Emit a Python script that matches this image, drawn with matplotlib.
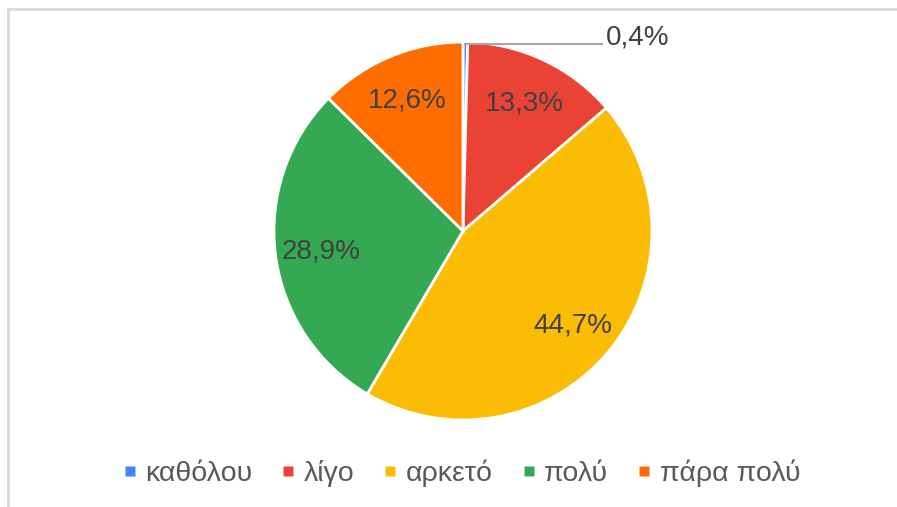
import numpy as np
import matplotlib
matplotlib.use('Agg')
import matplotlib.pyplot as plt
from matplotlib.lines import Line2D

plt.rcParams['font.family'] = ['Liberation Sans', 'DejaVu Sans']

categories = ['καθόλου', 'λίγο', 'αρκετό', 'πολύ', 'πάρα πολύ']
shares = [0.4, 13.3, 44.7, 28.9, 12.6]
colors = ['#4285F4', '#EA4335', '#FBBC04', '#34A853', '#FF6D01']

W, H = 897, 507
fig = plt.figure(figsize=(W / 100, H / 100), dpi=100)
ax = fig.add_axes([0, 0, 1, 1])

cx, cy, R = 463, H - 231, 189
wedges, _ = ax.pie(shares, colors=colors, startangle=90, counterclock=False,
                   center=(cx, cy), radius=R,
                   wedgeprops=dict(edgecolor='white', linewidth=2))
ax.set_xlim(0, W)
ax.set_ylim(0, H)
ax.set_aspect('equal')
ax.axis('off')

def fmt(v):
    return f'{v:.1f}%'.replace('.', ',')

for w, v in zip(wedges, shares):
    mid = np.deg2rad((w.theta1 + w.theta2) / 2)
    if v < 2:
        # tiny slice: leader line out to the right
        x0 = cx + R * np.cos(mid)
        y0 = cy + R * np.sin(mid) - 2
        ax.plot([x0, 602], [y0, y0], color='#a6a6a6', lw=1.5)
        ax.text(606, y0 + 7, fmt(v), fontsize=20, color='#404040',
                ha='left', va='center')
        continue
    r = 0.76 * R
    ax.text(cx + r * np.cos(mid), cy + r * np.sin(mid) - 2, fmt(v),
            fontsize=20, color='#404040', ha='center', va='center')

# border of the chart area (only top and left survive the crop)
ax.plot([8, W], [H - 9, H - 9], color='#d9d9d9', lw=2, clip_on=False)
ax.plot([8, 8], [H - 9, 0], color='#d9d9d9', lw=2, clip_on=False)

handles = [Line2D([], [], ls='none', marker='s', ms=7, mfc=c, mec='none') for c in colors]
leg = ax.legend(handles, categories, loc='center', bbox_to_anchor=(463 / W, 1 - 473 / H),
                ncol=5, frameon=False, fontsize=20.5, handlelength=0.3,
                handletextpad=0.4, columnspacing=1.1, labelcolor='#595959')

fig.savefig('out.png', dpi=100)
